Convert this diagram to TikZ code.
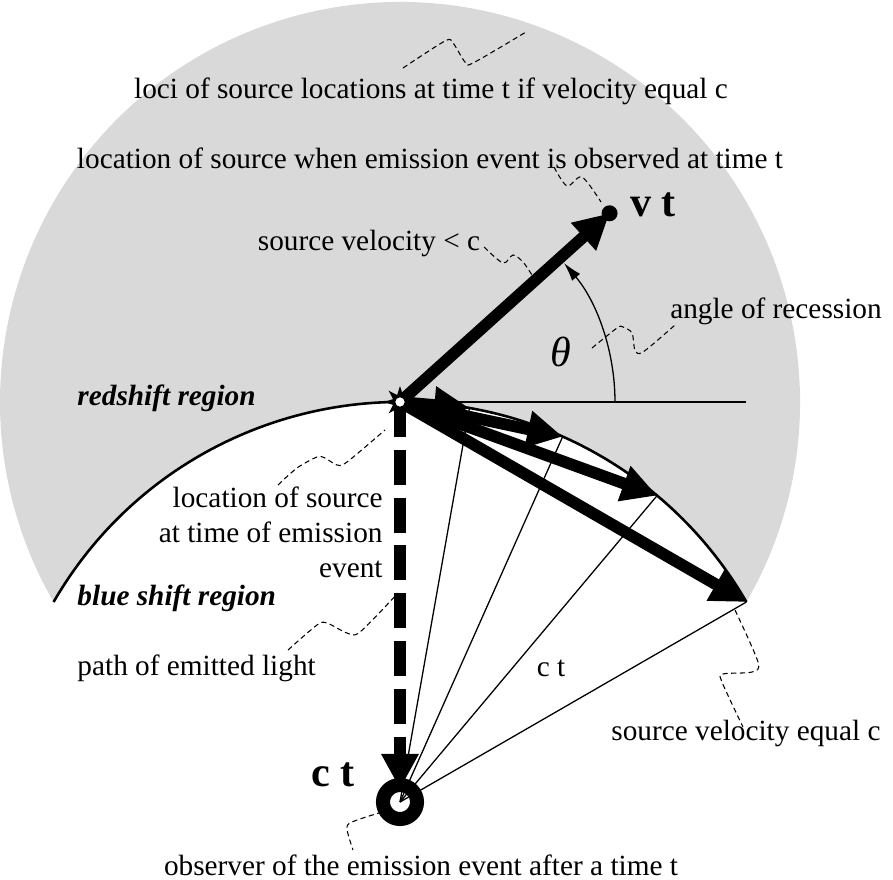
\documentclass[tikz,border=0pt]{standalone}
\usepackage{fontspec}
\setmainfont{Liberation Serif}
\usepackage{tikz}
\usetikzlibrary{arrows.meta}
\definecolor{diskgray}{HTML}{D9D9D9}

\begin{document}
\begin{tikzpicture}[x=1.5cm, y=1.5cm,
  txt/.style={inner sep=0pt, font=\fontsize{12.5}{15}\selectfont},
  region/.style={inner sep=0pt, font=\fontsize{12.5}{15}\selectfont\bfseries\itshape},
  big/.style={inner sep=0pt, font=\fontsize{18}{20}\selectfont\bfseries},
  vec/.style={line width=5pt, -{Triangle[length=15pt,width=15pt]}},
  ray/.style={line width=0.55pt},
  leader/.style={line width=0.45pt, dash pattern=on 2.2pt off 1.5pt}
]
  \useasboundingbox (-4,-4.77) rectangle (4.93,4.02);
  \coordinate (S) at (0,0);
  \coordinate (O) at (0,-4);
  \coordinate (vt) at (42:2.82);
  \coordinate (hz) at (3.46,0);

  % reachable region (disk round S minus disk round O)
  \fill[diskgray] (-30:4) arc[start angle=-30, end angle=210, radius=4]
    arc[start angle=150, end angle=30, radius=4] -- cycle;
  \draw[line width=1.1pt] ([shift={(150:4)}]O) arc[start angle=150, end angle=30, radius=4];

  % light rays to the c t circle
  \foreach \a/\n in {80/1,66/2,50/3,30/4} {
    \coordinate (p\n) at ([shift={(\a:4)}]O);
    \draw[ray] (O) -- (p\n);
  }
  \draw[ray] (S) -- (hz);
  \draw[ray, -{Latex[length=8pt,width=4.5pt]}] (2.15,0) arc[start angle=0, end angle=40.3, radius=2.15];

  % velocity vectors
  \foreach \n in {1,...,4} \draw[vec] (S) -- (p\n);
  \draw[vec] (S) -- (vt);
  \draw[vec, dash pattern=on 14.9pt off 5.5pt, shorten >=5.5pt] (S) -- (O);
  \fill (vt) circle (0.08);
  % emission burst
  \fill (0:0.16) \foreach \k in {1,...,15} { -- (\k*22.5:{ifthenelse(mod(\k,2)==0,0.16,0.075)}) } -- cycle;
  \draw[fill=white, line width=0.6pt] (S) circle (0.055);
  \draw[line width=6pt] (O) circle (0.17);

  % labels
  \node[txt] (loci) at (0.31,3.11) {loci of source locations at time t if velocity equal c};
  \node[txt] (obs) at (0.30,2.44) {location of source when emission event is observed at time t};
  \node[big, anchor=base] (vtlbl) at (2.53,1.86) {v t};
  \node[txt] (slow) at (-0.31,1.59) {source velocity < c};
  \node[txt] (ang) at (3.76,0.91) {angle of recession};
  \node[inner sep=0pt, font=\fontsize{18}{20}\selectfont\itshape] (theta) at (1.61,0.50) {θ};
  \node[region, anchor=west] (red) at (-3.23,0.04) {redshift region};
  \node[txt, align=right, anchor=east] (emit) at (-0.17,-1.30) {location of source\\at time of emission\\event};
  \node[region, anchor=west] (blue) at (-3.23,-1.96) {blue shift region};
  \node[txt, anchor=west] (path) at (-3.23,-2.66) {path of emitted light};
  \node[txt] (ctl) at (1.51,-2.66) {c t};
  \node[txt] (fast) at (3.46,-3.31) {source velocity equal c};
  \node[big, anchor=base] (ctlbl) at (-0.67,-3.84) {c t};
  \node[txt] (observer) at (0.21,-4.63) {observer of the emission event after a time t};

  % leaders
  \draw[leader] plot[smooth] coordinates {(0.03,3.34) (0.45,3.61) (0.53,3.59) (0.65,3.40) (0.73,3.39) (1.26,3.70)};
  \draw[leader] plot[smooth] coordinates {(1.54,2.35) (1.67,2.16) (1.82,2.25) (2.01,2.00)};
  \draw[leader] plot[smooth] coordinates {(0.84,1.55) (1.03,1.39) (1.13,1.47) (1.23,1.40) (1.32,1.27)};
  \draw[leader] plot[smooth] coordinates {(1.92,0.54) (2.17,0.74) (2.23,0.75) (2.32,0.69) (2.35,0.52) (2.43,0.50) (2.75,0.77)};
  \draw[leader] plot[smooth] coordinates {(-1.22,-0.83) (-1.03,-0.66) (-0.83,-0.55) (-0.75,-0.56) (-0.63,-0.63) (-0.53,-0.60) (-0.15,-0.28)};
  \draw[leader] plot[smooth] coordinates {(-1.12,-2.48) (-0.83,-2.23) (-0.73,-2.21) (-0.53,-2.31) (-0.40,-2.30) (-0.02,-1.91)};
  \draw[leader] plot[smooth] coordinates {(3.35,-2.08) (3.58,-2.60) (3.52,-2.70) (3.23,-2.72) (3.22,-2.80) (3.43,-3.25)};
  \draw[leader] plot[smooth] coordinates {(-0.18,-4.10) (-0.48,-4.20) (-0.53,-4.27) (-0.47,-4.48)};
\end{tikzpicture}
\end{document}
